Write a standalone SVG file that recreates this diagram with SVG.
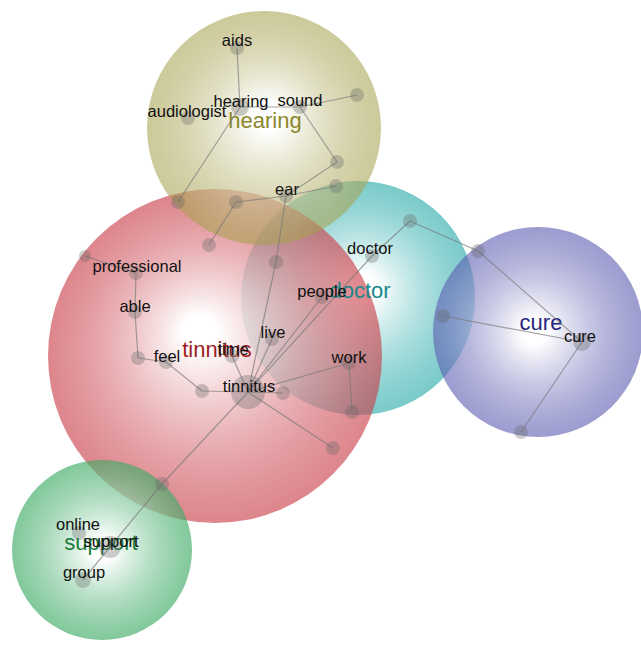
<svg xmlns="http://www.w3.org/2000/svg" width="641" height="652" viewBox="0 0 641 652">
<defs>
<radialGradient id="gD" cx="0.5" cy="0.5" r="0.5" fx="0.52" fy="0.45">
<stop offset="0" stop-color="#ffffff" stop-opacity="0.95"/>
<stop offset="0.12" stop-color="#ffffff" stop-opacity="0.9"/>
<stop offset="1" stop-color="#28aaaa" stop-opacity="0.62"/>
</radialGradient>
<radialGradient id="gT" cx="0.5" cy="0.5" r="0.5" fx="0.45" fy="0.42">
<stop offset="0" stop-color="#ffffff" stop-opacity="0.95"/>
<stop offset="0.1" stop-color="#ffffff" stop-opacity="0.9"/>
<stop offset="1" stop-color="#c83c46" stop-opacity="0.62"/>
</radialGradient>
<radialGradient id="gH" cx="0.5" cy="0.5" r="0.5" fx="0.52" fy="0.45">
<stop offset="0" stop-color="#ffffff" stop-opacity="0.95"/>
<stop offset="0.12" stop-color="#ffffff" stop-opacity="0.9"/>
<stop offset="1" stop-color="#a5a04c" stop-opacity="0.56"/>
</radialGradient>
<radialGradient id="gC" cx="0.5" cy="0.5" r="0.5" fx="0.48" fy="0.5">
<stop offset="0" stop-color="#ffffff" stop-opacity="0.95"/>
<stop offset="0.12" stop-color="#ffffff" stop-opacity="0.9"/>
<stop offset="1" stop-color="#5a5ab0" stop-opacity="0.6"/>
</radialGradient>
<radialGradient id="gS" cx="0.5" cy="0.5" r="0.5" fx="0.5" fy="0.5">
<stop offset="0" stop-color="#ffffff" stop-opacity="0.95"/>
<stop offset="0.12" stop-color="#ffffff" stop-opacity="0.9"/>
<stop offset="1" stop-color="#3caa64" stop-opacity="0.64"/>
</radialGradient>
<style>
text{font-family:"Liberation Sans",Arial,Helvetica,sans-serif;text-anchor:middle}
.lbl{font-size:16.5px;fill:#111}
.big{font-size:22px}
.nd{fill:#646464;fill-opacity:0.32}
#connectors line{stroke:#777;stroke-opacity:0.65;stroke-width:1.2}
</style>
</defs>
<rect width="641" height="652" fill="#ffffff"/>
<g id="clusters">
<g id="cluster-doctor"><circle cx="358" cy="298" r="117" fill="url(#gD)"/></g>
<g id="cluster-tinnitus"><circle cx="215" cy="356" r="167" fill="url(#gT)"/></g>
<g id="cluster-hearing"><circle cx="264" cy="128" r="117" fill="url(#gH)"/></g>
<g id="cluster-cure"><circle cx="538" cy="332" r="105" fill="url(#gC)"/></g>
<g id="cluster-support"><circle cx="102" cy="550" r="90" fill="url(#gS)"/></g>
</g>
<g id="cluster-labels">
<text class="big" x="265" y="128" fill="#8a872c">hearing</text>
<text class="big" x="217" y="357" fill="#a01c24">tinnitus</text>
<text class="big" x="360" y="298" fill="#1a8888">doctor</text>
<text class="big" x="541" y="330" fill="#25257a">cure</text>
<text class="big" x="101" y="550" fill="#1c7e40">support</text>
</g>
<g id="connectors">
<line x1="237" y1="48" x2="240" y2="107"/>
<line x1="240" y1="107" x2="300" y2="107"/>
<line x1="300" y1="107" x2="357" y2="95"/>
<line x1="300" y1="107" x2="337" y2="162"/>
<line x1="337" y1="162" x2="286" y2="196"/>
<line x1="286" y1="196" x2="336" y2="186"/>
<line x1="236" y1="202" x2="286" y2="196"/>
<line x1="240" y1="107" x2="178" y2="202"/>
<line x1="236" y1="202" x2="209" y2="245"/>
<line x1="286" y1="196" x2="276" y2="262"/>
<line x1="276" y1="262" x2="248" y2="392"/>
<line x1="248" y1="392" x2="272" y2="339"/>
<line x1="248" y1="392" x2="322" y2="297"/>
<line x1="248" y1="392" x2="372" y2="256"/>
<line x1="372" y1="256" x2="410" y2="221"/>
<line x1="410" y1="221" x2="478" y2="251"/>
<line x1="478" y1="251" x2="582" y2="342"/>
<line x1="443" y1="316" x2="582" y2="342"/>
<line x1="582" y1="342" x2="521" y2="432"/>
<line x1="248" y1="392" x2="349" y2="363"/>
<line x1="349" y1="363" x2="352" y2="412"/>
<line x1="248" y1="392" x2="283" y2="393"/>
<line x1="248" y1="392" x2="333" y2="448"/>
<line x1="248" y1="392" x2="162" y2="484"/>
<line x1="162" y1="484" x2="110" y2="547"/>
<line x1="110" y1="547" x2="83" y2="580"/>
<line x1="248" y1="392" x2="232" y2="356"/>
<line x1="248" y1="392" x2="202" y2="391"/>
<line x1="202" y1="391" x2="166" y2="362"/>
<line x1="166" y1="362" x2="138" y2="358"/>
<line x1="138" y1="358" x2="135" y2="312"/>
<line x1="135" y1="312" x2="136" y2="273"/>
<line x1="136" y1="273" x2="85" y2="256"/>
</g>
<g id="node-aids"><circle class="nd" cx="237" cy="48" r="7"/><text class="lbl" x="237" y="46">aids</text></g>
<g id="node-hearing"><circle class="nd" cx="240" cy="107" r="9"/><text class="lbl" x="241" y="107">hearing</text></g>
<g id="node-audiologist"><circle class="nd" cx="188" cy="118" r="7"/><text class="lbl" x="187" y="117">audiologist</text></g>
<g id="node-sound"><circle class="nd" cx="300" cy="107" r="7"/><text class="lbl" x="300" y="106">sound</text></g>
<g id="node-h5"><circle class="nd" cx="357" cy="95" r="7"/></g>
<g id="node-h6"><circle class="nd" cx="337" cy="162" r="7"/></g>
<g id="node-h7"><circle class="nd" cx="336" cy="186" r="7"/></g>
<g id="node-ear"><circle class="nd" cx="286" cy="196" r="7"/><text class="lbl" x="287" y="195">ear</text></g>
<g id="node-h8"><circle class="nd" cx="236" cy="202" r="7"/></g>
<g id="node-h9"><circle class="nd" cx="178" cy="202" r="7"/></g>
<g id="node-h10"><circle class="nd" cx="209" cy="245" r="7"/></g>
<g id="node-h11"><circle class="nd" cx="276" cy="262" r="7"/></g>
<g id="node-p1"><circle class="nd" cx="85" cy="256" r="6"/></g>
<g id="node-professional"><circle class="nd" cx="136" cy="273" r="7"/><text class="lbl" x="137" y="272">professional</text></g>
<g id="node-able"><circle class="nd" cx="135" cy="312" r="7"/><text class="lbl" x="135" y="312">able</text></g>
<g id="node-p4"><circle class="nd" cx="138" cy="358" r="7"/></g>
<g id="node-feel"><circle class="nd" cx="166" cy="362" r="7"/><text class="lbl" x="167" y="362">feel</text></g>
<g id="node-f2"><circle class="nd" cx="202" cy="391" r="7"/></g>
<g id="node-time"><circle class="nd" cx="232" cy="356" r="7"/><text class="lbl" x="233" y="355">time</text></g>
<g id="node-tinnitus"><circle class="nd" cx="248" cy="392" r="17"/><text class="lbl" x="249" y="392">tinnitus</text></g>
<g id="node-t2"><circle class="nd" cx="283" cy="393" r="7"/></g>
<g id="node-live"><circle class="nd" cx="272" cy="339" r="7"/><text class="lbl" x="273" y="338">live</text></g>
<g id="node-people"><circle class="nd" cx="322" cy="297" r="7"/><text class="lbl" x="322" y="297">people</text></g>
<g id="node-doctor"><circle class="nd" cx="372" cy="256" r="7"/><text class="lbl" x="370" y="254">doctor</text></g>
<g id="node-d2"><circle class="nd" cx="410" cy="221" r="7"/></g>
<g id="node-work"><circle class="nd" cx="349" cy="363" r="7"/><text class="lbl" x="349" y="363">work</text></g>
<g id="node-w2"><circle class="nd" cx="352" cy="412" r="7"/></g>
<g id="node-t3"><circle class="nd" cx="333" cy="448" r="7"/></g>
<g id="node-t4"><circle class="nd" cx="162" cy="484" r="7"/></g>
<g id="node-support"><circle class="nd" cx="110" cy="547" r="11"/><text class="lbl" x="111" y="547">support</text></g>
<g id="node-online"><circle class="nd" cx="79" cy="533" r="7"/><text class="lbl" x="78" y="530">online</text></g>
<g id="node-group"><circle class="nd" cx="83" cy="580" r="8"/><text class="lbl" x="84" y="578">group</text></g>
<g id="node-c1"><circle class="nd" cx="478" cy="251" r="7"/></g>
<g id="node-c2"><circle class="nd" cx="443" cy="316" r="7"/></g>
<g id="node-cure"><circle class="nd" cx="582" cy="342" r="9"/><text class="lbl" x="580" y="342">cure</text></g>
<g id="node-c3"><circle class="nd" cx="521" cy="432" r="7"/></g>
</svg>
